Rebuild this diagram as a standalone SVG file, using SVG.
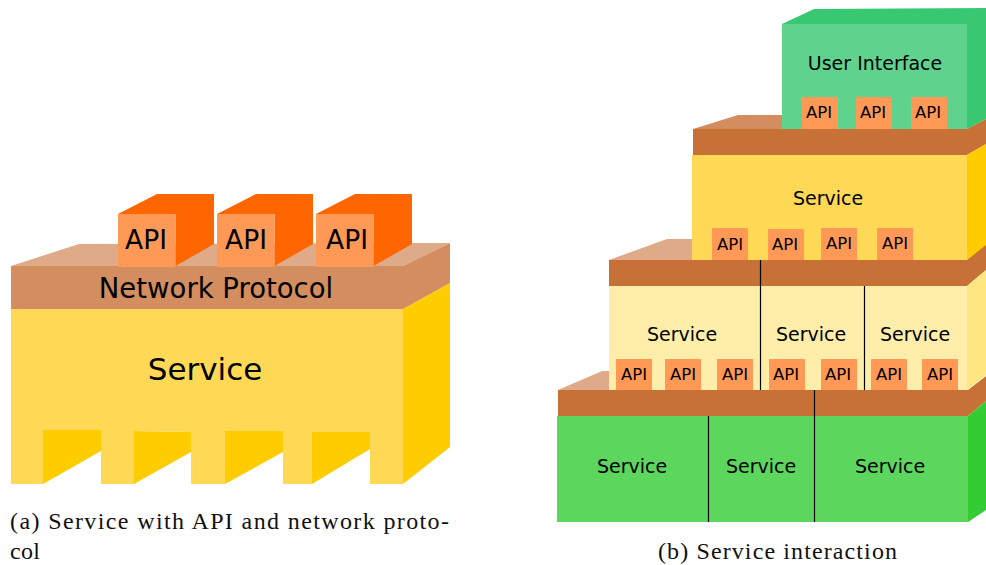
<svg xmlns="http://www.w3.org/2000/svg" width="986" height="565" viewBox="0 0 986 565">
<style>
text{font-family:"DejaVu Sans",sans-serif;fill:#000;text-anchor:middle}
.cap{font-family:"Liberation Serif",serif;font-size:24px;text-anchor:start;fill:#111}
.s{font-size:19px}.a{font-size:16.5px}
.api{fill:#ff9955}.ad{fill:#ff6600}
.y{fill:#ffd955}.yd{fill:#ffcc00}
.b{fill:#c87137}.bt{fill:#d38d5f}.bl{fill:#deaa87}
.d{stroke:#000;stroke-width:1.2;fill:none}
</style>
<rect width="986" height="565" fill="#fff"/>

<g id="a-service">
<path class="yd" d="M403 309L450 283V447L403 484Z"/>
<path class="yd" d="M43 430H101V451L43 484ZM134 431L191 432V452L134 484ZM225 431H283V452L225 484ZM312 432H370V449L312 484Z"/>
<path class="y" d="M11 309H403V484H370V432H312V484H283V431H225V484H191V432L134 431V484H101V430H43V484H11Z"/>
<text x="205" y="380" font-size="31">Service</text>
</g>
<g id="a-network">
<path class="bl" d="M11 266L79 244L450 243L403 266Z"/>
<path class="bt" d="M403 266L450 243V283L403 309Z"/>
<rect class="bt" x="11" y="266" width="392" height="43"/>
<text x="216" y="298" font-size="27.5">Network Protocol</text>
</g>
<g id="a-api1">
<path class="ad" d="M118 214L157 194H214V244L175.500 266V214Z"/>
<rect class="api" x="118" y="214" width="57.500" height="53"/>
<text x="146" y="249" font-size="26.500">API</text>
</g>
<g id="a-api2">
<path class="ad" d="M217 214L256 194H313V244L274.500 266V214Z"/>
<rect class="api" x="217" y="214" width="57.500" height="53"/>
<text x="246" y="249" font-size="26.500">API</text>
</g>
<g id="a-api3">
<path class="ad" d="M316 214L355 194H412V244L373.500 266V214Z"/>
<rect class="api" x="316" y="214" width="57.500" height="53"/>
<text x="347" y="249" font-size="26.500">API</text>
</g>

<g id="b-ui">
<path fill="#37c871" d="M782 24L814 9L986 8V119L967 129V24Z"/>
<rect fill="#5fd38d" x="782" y="24" width="185" height="105"/>
<text class="s" x="875" y="70">User Interface</text>
</g>
<g id="b-ui-apis">
<rect class="api" x="802" y="97" width="36" height="32"/><text class="a" x="819" y="118">API</text>
<rect class="api" x="856" y="97" width="36" height="32"/><text class="a" x="873" y="118">API</text>
<rect class="api" x="911" y="97" width="36" height="32"/><text class="a" x="928" y="118">API</text>
</g>
<g id="b-net1">
<path class="bt" d="M693 129L738 115H782V129Z"/>
<path class="b" d="M967 129L986 119V144L967 155Z"/>
<rect class="b" x="693" y="129" width="274" height="26"/>
</g>
<g id="b-service-top">
<path class="yd" d="M967 155L986 144V246L967 260Z"/>
<rect class="y" x="692" y="155" width="275" height="105"/>
<text class="s" x="828" y="205">Service</text>
</g>
<g id="b-service-top-apis">
<rect class="api" x="712" y="228" width="36" height="32"/><text class="a" x="730" y="250">API</text>
<rect class="api" x="768" y="229" width="36" height="31"/><text class="a" x="785" y="250">API</text>
<rect class="api" x="821" y="228" width="36" height="32"/><text class="a" x="839" y="249">API</text>
<rect class="api" x="877" y="228" width="36" height="32"/><text class="a" x="895" y="249">API</text>
</g>
<g id="b-net2">
<path class="bl" d="M609 260L667 239H692V260Z"/>
<path class="b" d="M967 260L986 245V270L967 286Z"/>
<rect class="b" x="609" y="260" width="358" height="26"/>
</g>
<g id="b-services-mid">
<path fill="#ffe680" d="M967 286L986 270V375L967 390Z"/>
<rect fill="#ffeeaa" x="609" y="286" width="358" height="104"/>
<text class="s" x="682" y="341">Service</text>
<text class="s" x="811" y="341">Service</text>
<text class="s" x="915" y="341">Service</text>
</g>
<g id="b-services-mid-apis">
<rect class="api" x="616" y="359" width="36" height="32"/><text class="a" x="634" y="380">API</text>
<rect class="api" x="665" y="359" width="36" height="32"/><text class="a" x="683" y="380">API</text>
<rect class="api" x="717" y="359" width="36" height="32"/><text class="a" x="735" y="380">API</text>
<rect class="api" x="769" y="359" width="36" height="32"/><text class="a" x="786" y="380">API</text>
<rect class="api" x="821" y="359" width="36" height="32"/><text class="a" x="838" y="380">API</text>
<rect class="api" x="871" y="359" width="36" height="32"/><text class="a" x="889" y="380">API</text>
<rect class="api" x="922" y="359" width="36" height="32"/><text class="a" x="940" y="380">API</text>
</g>
<g id="b-net3">
<path class="bl" d="M558 390L602 371H609V390Z"/>
<path class="b" d="M968 390L986 376V401L968 416Z"/>
<rect class="b" x="558" y="390" width="410" height="26"/>
</g>
<g id="b-services-bottom">
<path fill="#33cc33" d="M968 416L986 401V510L968 522Z"/>
<rect fill="#5cd65c" x="557" y="416" width="411" height="106"/>
<text class="s" x="632" y="473">Service</text>
<text class="s" x="761" y="473">Service</text>
<text class="s" x="890" y="473">Service</text>
</g>
<g id="connectors">
<path class="d" d="M760.500 260V390M864.500 286V390M708.500 416V522M814.500 390V522"/>
</g>
<g id="captions">
<text class="cap" x="10" y="529" textLength="439" lengthAdjust="spacing">(a) Service with API and network proto-</text>
<text class="cap" x="10" y="559" textLength="30" lengthAdjust="spacing">col</text>
<text class="cap" x="658" y="559" textLength="239" lengthAdjust="spacing">(b) Service interaction</text>
</g>
</svg>
